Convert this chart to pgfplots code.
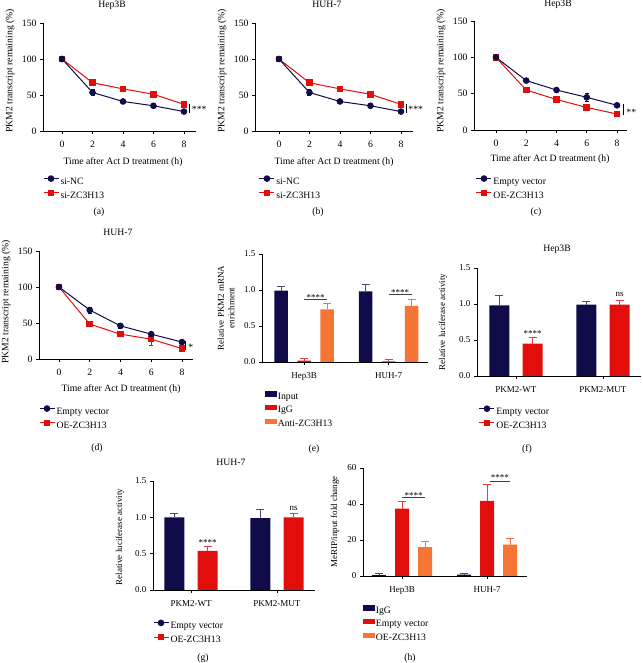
\documentclass[border=0pt]{standalone}
\usepackage{fontspec}
\setmainfont{Liberation Serif}
\usepackage{pgfplots}
\pgfplotsset{compat=1.18}
\definecolor{navy}{RGB}{16,12,74}
\definecolor{gred}{RGB}{226,14,12}
\definecolor{gorange}{RGB}{246,116,52}
\newcommand\fs{\fontsize{9.7}{11.5}\selectfont}
\newcommand\fss{\fontsize{9}{10.5}\selectfont}
\newcommand\tx[4][]{\node[font=\fs,inner sep=0pt,#1] at (#2pt,{(663-#3)*1pt}) {#4};}
\pgfplotsset{
  gp/.style={
    scale only axis, clip=false,
    axis lines=left, axis line style={-, line width=0.8pt, black},
    tick align=outside, major tick length=3pt,
    every tick/.style={line width=0.8pt, black},
    /pgf/number format/assume math mode=true,
    ticklabel style={font=\fs},
    xticklabel style={yshift=-4pt},
    legend cell align=left,
    legend style={draw=none, fill=none, font=\fs, anchor=north west, inner sep=0pt, outer sep=0pt, row sep=3.5pt, nodes={inner sep=0pt, text height=7pt, text depth=2.5pt}},
    /tikz/every odd column/.append style={column sep=1.5pt},
  },
  lineax/.style={gp, anchor=south west, ymin=0, ymax=150, ytick={0,50,100,150}, xtick={0,2,4,6,8}},
  barax/.style={gp, anchor=south west, xtick={0,1}, ymin=0, ticklabel style={font=\fss}},
  ll/.style={legend image code/.code={\draw[mark repeat=2,mark phase=2,##1] plot coordinates {(0pt,3.2pt)(7.5pt,3.2pt)(15pt,3.2pt)};}},
  bl/.style={legend image code/.code={\fill[#1] (0pt,1pt) rectangle (11pt,5.4pt);}},
  nv/.style={navy, line width=1pt, mark=*, mark size=2.8pt},
  rd/.style={gred, line width=1pt, mark=square*, mark size=2.8pt},
  eb/.style={error bars/.cd, y dir=both, y explicit, error bar style={line width=0.7pt}, error mark options={rotate=90, mark size=2pt, line width=0.7pt}},
  bb/.style={forget plot, ybar, bar width=#1, bar shift=0pt, draw=none},
  be/.style={error bars/.cd, y dir=plus, y explicit, error bar style={line width=0.8pt, color=#1}, error mark options={rotate=90, mark size=4pt, line width=0.8pt, color=#1}},
}
\begin{document}
\begin{tikzpicture}
\path[use as bounding box] (0,0) rectangle (642pt,663pt);

% (a)
\begin{axis}[lineax, at={(43pt,532pt)}, width=153pt, height=108pt, xmin=-1.25, xmax=8.79, legend style={at={(0,-0.415)}}]
\addlegendimage{ll, nv}\addlegendentry{si-NC}
\addlegendimage{ll, rd}\addlegendentry{si-ZC3H13}
\addplot[forget plot, rd, eb] coordinates {(0,100)+-(0,1.5) (2,67)+-(0,2) (4,58.5)+-(0,1.5) (6,51)+-(0,2) (8,37)+-(0,3)};
\addplot[forget plot, nv, eb] coordinates {(0,100)+-(0,1) (2,53.5)+-(0,4) (4,41)+-(0,1.5) (6,35)+-(0,1.5) (8,27)+-(0,1.5)};
\draw[line width=0.6pt] (axis cs:8.33,25.5) -- (axis cs:8.33,37.5);
\node[font=\fs, anchor=base west, inner sep=0pt] at (axis cs:8.51,25) {***};
\end{axis}

% (b)
\begin{axis}[lineax, at={(255pt,532pt)}, width=158pt, height=108pt, xmin=-1.57, xmax=8.79, legend style={at={(0.025,-0.415)}}]
\addlegendimage{ll, nv}\addlegendentry{si-NC}
\addlegendimage{ll, rd}\addlegendentry{si-ZC3H13}
\addplot[forget plot, rd, eb] coordinates {(0,100)+-(0,1.5) (2,67)+-(0,2) (4,58.5)+-(0,1.5) (6,51)+-(0,2) (8,37)+-(0,3)};
\addplot[forget plot, nv, eb] coordinates {(0,100)+-(0,1) (2,53.5)+-(0,4) (4,41)+-(0,1.5) (6,35)+-(0,1.5) (8,27)+-(0,1.5)};
\draw[line width=0.6pt] (axis cs:8.35,25) -- (axis cs:8.35,38);
\node[font=\fs, anchor=base west, inner sep=0pt] at (axis cs:8.48,25) {***};
\end{axis}

% (c)
\begin{axis}[lineax, at={(474pt,533pt)}, width=153pt, height=109pt, xmin=-1.45, xmax=8.66, legend style={at={(0.013,-0.42)}}]
\addlegendimage{ll, nv}\addlegendentry{Empty vector}
\addlegendimage{ll, rd}\addlegendentry{OE-ZC3H13}
\addplot[forget plot, rd, eb] coordinates {(0,100)+-(0,1.5) (2,55)+-(0,2) (4,42)+-(0,2) (6,31)+-(0,2) (8,22)+-(0,2)};
\addplot[forget plot, nv, eb] coordinates {(0,100)+-(0,1) (2,68)+-(0,2) (4,55)+-(0,2) (6,45)+-(0,5) (8,34)+-(0,2)};
\draw[line width=0.6pt] (axis cs:8.40,20.2) -- (axis cs:8.40,35.4);
\node[font=\fs, anchor=base west, inner sep=0pt] at (axis cs:8.61,19.7) {**};
\end{axis}

% (d)
\begin{axis}[lineax, at={(39pt,304pt)}, width=154pt, height=108pt, xmin=-1.3, xmax=8.72, legend style={at={(0,-0.433)}}]
\addlegendimage{ll, nv}\addlegendentry{Empty vector}
\addlegendimage{ll, rd}\addlegendentry{OE-ZC3H13}
\addplot[forget plot, rd, eb] coordinates {(0,100)+-(0,1.5) (2,48.5)+-(0,1.5) (4,34.5)+-(0,2) (6,27.5)+-(0,9) (8,14.5)+-(0,2)};
\addplot[forget plot, nv, eb] coordinates {(0,100)+-(0,1) (2,68)+-(0,4) (4,46)+-(0,4) (6,34.5)+-(0,2.5) (8,23.5)+-(0,2)};
\draw[line width=0.6pt] (axis cs:8.24,12) -- (axis cs:8.24,24.5);
\node[font=\fs, anchor=base west, inner sep=0pt] at (axis cs:8.41,12.4) {*};
\end{axis}

% (e)
\begin{axis}[barax, at={(262pt,301pt)}, width=166pt, height=108pt, xmin=-0.497, xmax=1.467, ymax=1.5, ytick={0,0.5,1,1.5}, yticklabels={0.0,0.5,1.0,1.5}, xticklabels={Hep3B,HUH-7}, legend style={at={(0.018,-0.27)}}]
\addlegendimage{bl=navy}\addlegendentry{Input}
\addlegendimage{bl=gred}\addlegendentry{IgG}
\addlegendimage{bl=gorange}\addlegendentry{Anti-ZC3H13}
\addplot[bb=13.5pt, fill=navy, be=navy!75!white] coordinates {(-0.272,0.99)+-(0,0.06) (0.728,0.98)+-(0,0.10)};
\addplot[bb=13.5pt, fill=gred, be=gred!80!white] coordinates {(0,0.02)+-(0,0.03) (1,0.01)+-(0,0.02)};
\addplot[bb=13.5pt, fill=gorange, be=gorange] coordinates {(0.272,0.73)+-(0,0.08) (1.272,0.78)+-(0,0.09)};
\draw[line width=0.7pt, black!75] (axis cs:0,0.87) -- (axis cs:0.272,0.87);
\node[font=\fss, anchor=base, inner sep=0pt] at (axis cs:0.136,0.855) {****};
\draw[line width=0.7pt, black!75] (axis cs:1,0.94) -- (axis cs:1.272,0.94);
\node[font=\fss, anchor=base, inner sep=0pt] at (axis cs:1.136,0.925) {****};
\end{axis}

% (f)
\begin{axis}[barax, at={(477pt,287pt)}, width=164pt, height=108pt, xmin=-0.448, xmax=1.437, ymax=1.5, ytick={0,0.5,1,1.5}, yticklabels={0.0,0.5,1.0,1.5}, xticklabels={PKM2-WT,PKM2-MUT}, legend style={at={(0.012,-0.277)}}]
\addlegendimage{ll, nv}\addlegendentry{Empty vector}
\addlegendimage{ll, rd}\addlegendentry{OE-ZC3H13}
\addplot[bb=20pt, fill=navy, be=navy!75!white] coordinates {(-0.19,0.98)+-(0,0.14) (0.81,0.99)+-(0,0.05)};
\addplot[bb=20pt, fill=gred, be=gred!80!white] coordinates {(0.19,0.45)+-(0,0.08) (1.19,0.99)+-(0,0.06)};
\node[font=\fss, anchor=base, inner sep=0pt] at (axis cs:0.19,0.55) {****};
\node[font=\fss, anchor=base, inner sep=0pt] at (axis cs:1.19,1.10) {ns};
\end{axis}

% (g)
\begin{axis}[barax, at={(153pt,73pt)}, width=162pt, height=109pt, xmin=-0.442, xmax=1.442, ymax=1.5, ytick={0,0.5,1,1.5}, yticklabels={0.0,0.5,1.0,1.5}, xticklabels={PKM2-WT,PKM2-MUT}, legend style={at={(0,-0.276)}}]
\addlegendimage{ll, nv}\addlegendentry{Empty vector}
\addlegendimage{ll, rd}\addlegendentry{OE-ZC3H13}
\addplot[bb=20pt, fill=navy, be=navy!75!white] coordinates {(-0.192,1.00)+-(0,0.05) (0.808,0.99)+-(0,0.12)};
\addplot[bb=20pt, fill=gred, be=gred!80!white] coordinates {(0.192,0.54)+-(0,0.06) (1.192,1.00)+-(0,0.05)};
\node[font=\fss, anchor=base, inner sep=0pt] at (axis cs:0.192,0.61) {****};
\node[font=\fss, anchor=base, inner sep=0pt] at (axis cs:1.192,1.09) {ns};
\end{axis}

% (h)
\begin{axis}[barax, at={(363pt,87pt)}, width=164pt, height=108pt, xmin=-0.459, xmax=1.47, ymax=60, ytick={0,20,40,60}, xticklabels={Hep3B,HUH-7}, legend style={at={(0,-0.27)}}]
\addlegendimage{bl=navy}\addlegendentry{IgG}
\addlegendimage{bl=gred}\addlegendentry{Empty vector}
\addlegendimage{bl=gorange}\addlegendentry{OE-ZC3H13}
\addplot[bb=14pt, fill=navy, be=navy!75!white] coordinates {(-0.271,0.55)+-(0,0.7) (0.729,0.7)+-(0,0.6)};
\addplot[bb=14pt, fill=gred, be=gred!80!white] coordinates {(0,37.4)+-(0,3.8) (1,41.7)+-(0,9.2)};
\addplot[bb=14pt, fill=gorange, be=gorange] coordinates {(0.271,16.1)+-(0,3.2) (1.271,17.4)+-(0,3.7)};
\draw[line width=0.7pt, black!75] (axis cs:0,43.5) -- (axis cs:0.27,43.5);
\node[font=\fss, anchor=base, inner sep=0pt] at (axis cs:0.135,43.3) {****};
\draw[line width=0.7pt, black!75] (axis cs:1.03,52.8) -- (axis cs:1.27,52.8);
\node[font=\fss, anchor=base, inner sep=0pt] at (axis cs:1.15,53) {****};
\end{axis}

% titles
\tx[anchor=base]{112}{8}{Hep3B}
\tx[anchor=base]{327}{8}{HUH-7}
\tx[anchor=base]{558}{7}{Hep3B}
\tx[anchor=base]{118}{236}{HUH-7}
\tx[anchor=base]{557}{252}{Hep3B}
\tx[anchor=base]{231}{466}{HUH-7}
% x labels
\tx[anchor=base]{123}{165}{Time after Act D treatment (h)}
\tx[anchor=base]{334}{165}{Time after Act D treatment (h)}
\tx[anchor=base]{550}{162}{Time after Act D treatment (h)}
\tx[anchor=base]{121}{392}{Time after Act D treatment (h)}
% y labels
\tx[rotate=90]{10}{71}{PKM2 transcript remaining (\%)}
\tx[rotate=90]{222}{71}{PKM2 transcript remaining (\%)}
\tx[rotate=90]{441}{71}{PKM2 transcript remaining (\%)}
\tx[rotate=90]{6}{302}{PKM2 transcript remaining (\%)}
\tx[rotate=90, align=center, font=\fss]{226}{308}{Relative PKM2 mRNA\\enrichment}
\tx[rotate=90, font=\fss]{443}{322}{Relative luciferase activity}
\tx[rotate=90, font=\fss]{120}{537}{Relative luciferase activity}
\tx[rotate=90, font=\fss]{335}{522}{MeRIP/input fold change}
% panel letters
\tx[anchor=base]{99}{215}{(a)}
\tx[anchor=base]{318}{215}{(b)}
\tx[anchor=base]{536}{215}{(c)}
\tx[anchor=base]{97}{451}{(d)}
\tx[anchor=base]{314}{452}{(e)}
\tx[anchor=base]{527}{452}{(f)}
\tx[anchor=base]{203}{661}{(g)}
\tx[anchor=base]{410}{661}{(h)}
\end{tikzpicture}
\end{document}
